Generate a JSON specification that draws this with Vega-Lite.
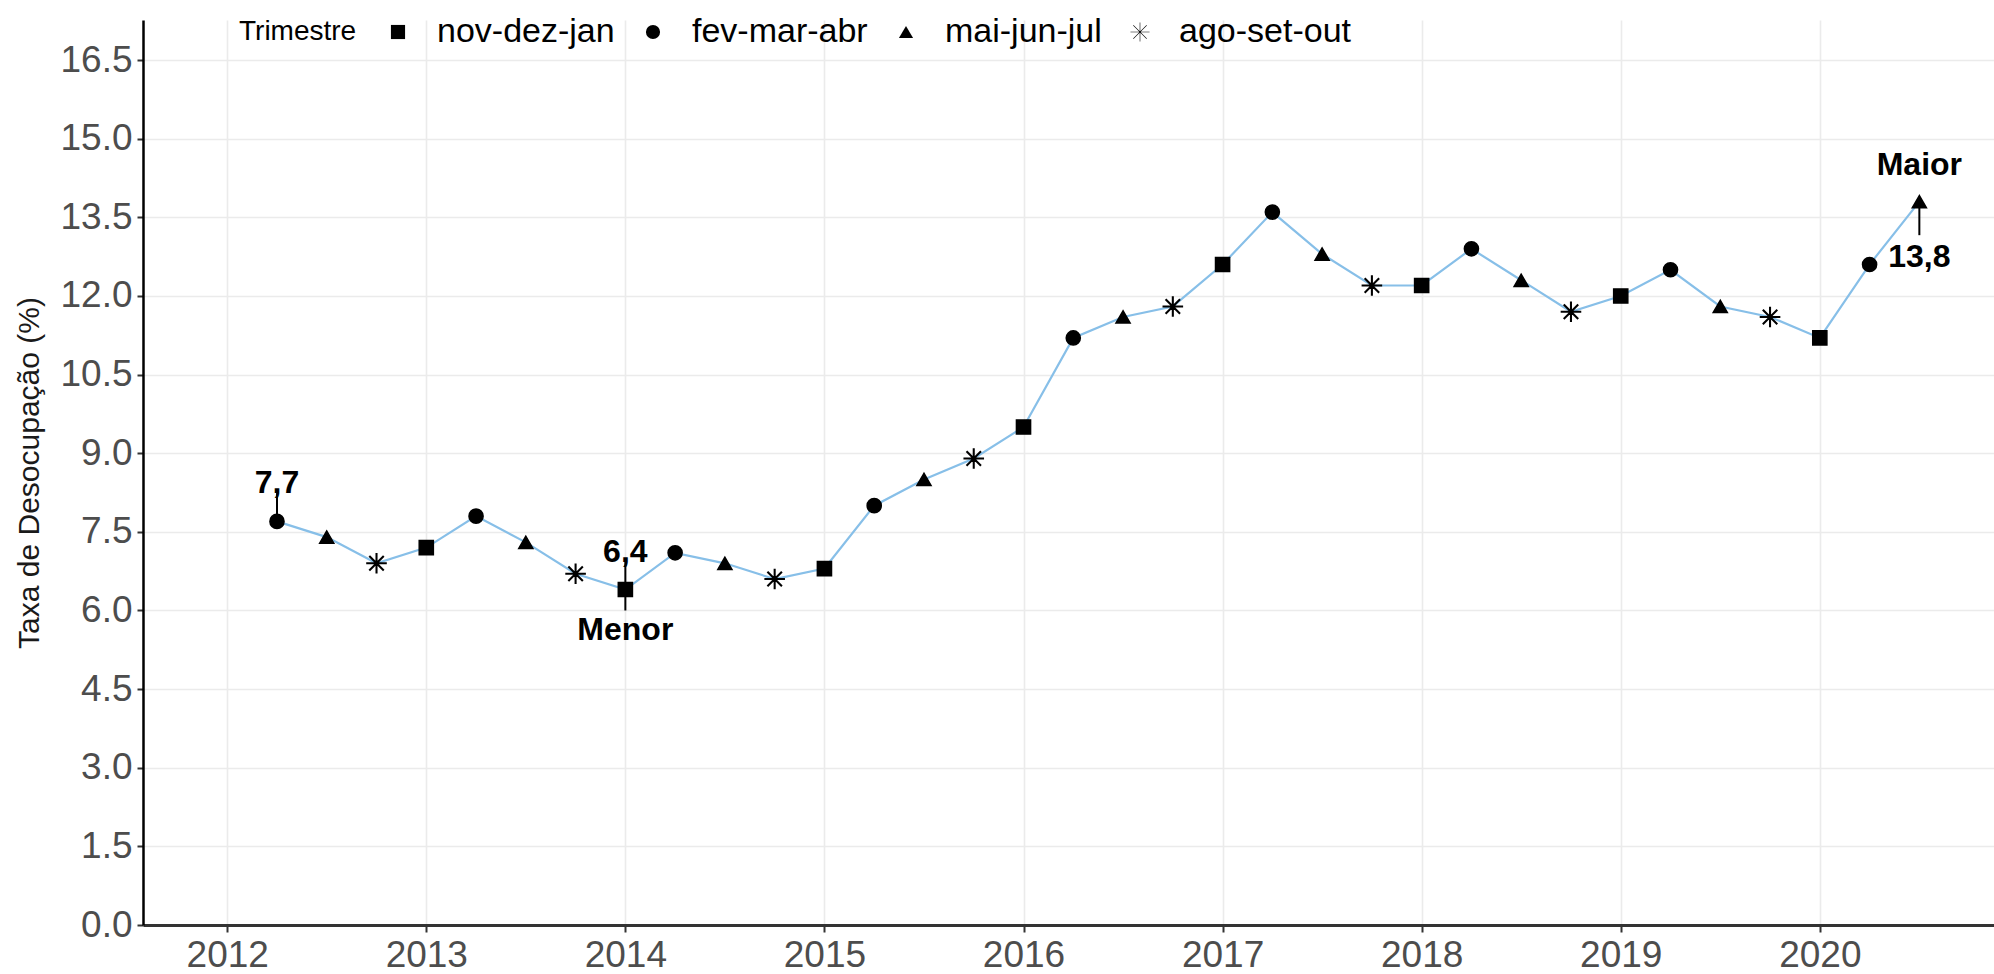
{
  "$schema": "https://vega.github.io/schema/vega-lite/v6.json",
  "autosize": {"type": "none"},
  "width": 1851,
  "height": 905,
  "padding": {"left": 143, "top": 20, "right": 0, "bottom": 49},
  "background": "white",
  "config": {
    "view": {"stroke": null},
    "font": "Liberation Sans",
    "axis": {
      "labelFont": "Liberation Sans",
      "titleFont": "Liberation Sans",
      "labelColor": "#4d4d4d",
      "labelFontSize": 37,
      "gridColor": "#ebebeb",
      "gridWidth": 1.6,
      "tickColor": "#333333",
      "tickWidth": 2,
      "tickSize": 7
    }
  },
  "datasets": {
    "serie": [
      {"t": 2012.25, "taxa": 7.7, "trimestre": "fev-mar-abr"},
      {"t": 2012.5, "taxa": 7.4, "trimestre": "mai-jun-jul"},
      {"t": 2012.75, "taxa": 6.9, "trimestre": "ago-set-out"},
      {"t": 2013.0, "taxa": 7.2, "trimestre": "nov-dez-jan"},
      {"t": 2013.25, "taxa": 7.8, "trimestre": "fev-mar-abr"},
      {"t": 2013.5, "taxa": 7.3, "trimestre": "mai-jun-jul"},
      {"t": 2013.75, "taxa": 6.7, "trimestre": "ago-set-out"},
      {"t": 2014.0, "taxa": 6.4, "trimestre": "nov-dez-jan"},
      {"t": 2014.25, "taxa": 7.1, "trimestre": "fev-mar-abr"},
      {"t": 2014.5, "taxa": 6.9, "trimestre": "mai-jun-jul"},
      {"t": 2014.75, "taxa": 6.6, "trimestre": "ago-set-out"},
      {"t": 2015.0, "taxa": 6.8, "trimestre": "nov-dez-jan"},
      {"t": 2015.25, "taxa": 8.0, "trimestre": "fev-mar-abr"},
      {"t": 2015.5, "taxa": 8.5, "trimestre": "mai-jun-jul"},
      {"t": 2015.75, "taxa": 8.9, "trimestre": "ago-set-out"},
      {"t": 2016.0, "taxa": 9.5, "trimestre": "nov-dez-jan"},
      {"t": 2016.25, "taxa": 11.2, "trimestre": "fev-mar-abr"},
      {"t": 2016.5, "taxa": 11.6, "trimestre": "mai-jun-jul"},
      {"t": 2016.75, "taxa": 11.8, "trimestre": "ago-set-out"},
      {"t": 2017.0, "taxa": 12.6, "trimestre": "nov-dez-jan"},
      {"t": 2017.25, "taxa": 13.6, "trimestre": "fev-mar-abr"},
      {"t": 2017.5, "taxa": 12.8, "trimestre": "mai-jun-jul"},
      {"t": 2017.75, "taxa": 12.2, "trimestre": "ago-set-out"},
      {"t": 2018.0, "taxa": 12.2, "trimestre": "nov-dez-jan"},
      {"t": 2018.25, "taxa": 12.9, "trimestre": "fev-mar-abr"},
      {"t": 2018.5, "taxa": 12.3, "trimestre": "mai-jun-jul"},
      {"t": 2018.75, "taxa": 11.7, "trimestre": "ago-set-out"},
      {"t": 2019.0, "taxa": 12.0, "trimestre": "nov-dez-jan"},
      {"t": 2019.25, "taxa": 12.5, "trimestre": "fev-mar-abr"},
      {"t": 2019.5, "taxa": 11.8, "trimestre": "mai-jun-jul"},
      {"t": 2019.75, "taxa": 11.6, "trimestre": "ago-set-out"},
      {"t": 2020.0, "taxa": 11.2, "trimestre": "nov-dez-jan"},
      {"t": 2020.25, "taxa": 12.6, "trimestre": "fev-mar-abr"},
      {"t": 2020.5, "taxa": 13.8, "trimestre": "mai-jun-jul"}
    ],
    "segmentos": [
      {"t": 2012.25, "y1": 7.7, "y2": 8.24},
      {"t": 2014.0, "y1": 6.0, "y2": 7.0},
      {"t": 2020.5, "y1": 13.16, "y2": 13.8}
    ],
    "rotulos": [
      {"t": 2012.25, "y": 8.43, "rotulo": "7,7"},
      {"t": 2014.0, "y": 7.12, "rotulo": "6,4"},
      {"t": 2014.0, "y": 5.63, "rotulo": "Menor"},
      {"t": 2020.5, "y": 14.5, "rotulo": "Maior"},
      {"t": 2020.5, "y": 12.74, "rotulo": "13,8"}
    ]
  },
  "encoding": {
    "x": {
      "field": "t",
      "type": "quantitative",
      "scale": {"domain": [2011.577, 2020.875], "nice": false, "zero": false},
      "axis": {
        "title": null,
        "values": [2012, 2013, 2014, 2015, 2016, 2017, 2018, 2019, 2020],
        "format": "d",
        "labelPadding": 5,
        "domainColor": "#333333",
        "domainWidth": 3,
        "labelFlush": false
      }
    }
  },
  "layer": [
    {
      "data": {"name": "serie"},
      "mark": {"type": "line", "color": "#87BFE8", "strokeWidth": 2.2},
      "encoding": {
        "y": {
          "field": "taxa",
          "type": "quantitative",
          "scale": {"domain": [0, 17.265], "nice": false},
          "axis": {
            "title": "Taxa de Desocupação (%)",
            "titleFontSize": 30,
            "titleFontWeight": "normal",
            "titleColor": "#1a1a1a",
            "titlePadding": 15,
            "values": [0, 1.5, 3, 4.5, 6, 7.5, 9, 10.5, 12, 13.5, 15, 16.5],
            "format": ".1f",
            "labelPadding": 5,
            "tickSize": 6,
            "domainColor": "#000000",
            "domainWidth": 2.5,
            "labelFlush": false
          }
        }
      }
    },
    {
      "data": {"name": "segmentos"},
      "mark": {"type": "rule", "color": "black", "strokeWidth": 2},
      "encoding": {
        "y": {"field": "y1", "type": "quantitative"},
        "y2": {"field": "y2"}
      }
    },
    {
      "data": {"name": "serie"},
      "mark": {"type": "point", "filled": true, "color": "black", "stroke": "black", "strokeWidth": 1.5, "opacity": 1, "size": 200},
      "encoding": {
        "y": {"field": "taxa", "type": "quantitative"},
        "shape": {
          "field": "trimestre",
          "type": "nominal",
          "scale": {
            "domain": ["nov-dez-jan", "fev-mar-abr", "mai-jun-jul", "ago-set-out"],
            "range": ["square", "circle", "triangle-up", "M-0.04,-1.35L0.04,-1.35L0.04,1.35L-0.04,1.35ZM-1.35,-0.04L1.35,-0.04L1.35,0.04L-1.35,0.04ZM-0.922,-0.978L0.978,0.922L0.922,0.978L-0.978,-0.922ZM-0.978,0.922L0.922,-0.978L0.978,-0.922L-0.922,0.978Z"]
          },
          "legend": {
            "title": "Trimestre",
            "orient": "none",
            "legendX": 96,
            "legendY": -5,
            "direction": "horizontal",
            "titleOrient": "left",
            "titleFontSize": 28,
            "titleFontWeight": "normal",
            "titleColor": "black",
            "titlePadding": 24,
            "titleBaseline": "middle",
            "labelFontSize": 34,
            "labelColor": "black",
            "labelLimit": 400,
            "labelOffset": 22,
            "columnPadding": 21,
            "symbolSize": 200,
            "symbolFillColor": "black",
            "symbolStrokeColor": "black",
            "symbolStrokeWidth": 1.5,
            "symbolOpacity": 1,
            "encode": {
              "symbols": {
                "update": {
                  "stroke": {"value": "black"},
                  "strokeWidth": {"value": 1.5},
                  "fill": {"value": "black"},
                  "opacity": {"value": 1}
                }
              }
            }
          }
        }
      }
    },
    {
      "data": {"name": "rotulos"},
      "mark": {"type": "text", "font": "Liberation Sans", "fontWeight": "bold", "fontSize": 32, "color": "black", "align": "center", "baseline": "middle"},
      "encoding": {
        "y": {"field": "y", "type": "quantitative"},
        "text": {"field": "rotulo"}
      }
    }
  ]
}
